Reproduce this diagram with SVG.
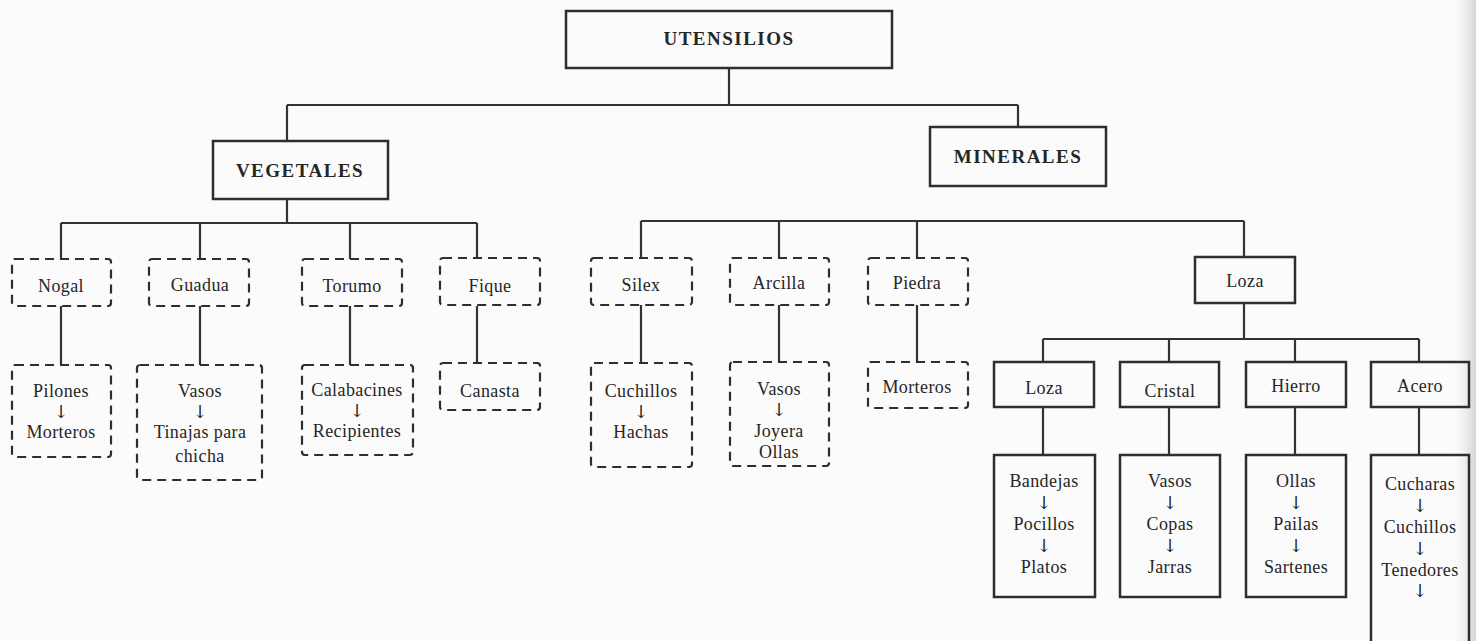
<svg xmlns="http://www.w3.org/2000/svg" width="1476" height="641" viewBox="0 0 1476 641">
  <defs>
    <linearGradient id="pageEdge" x1="0" y1="0" x2="1" y2="0">
      <stop offset="0" stop-color="#ffffff" stop-opacity="0"/>
      <stop offset="1" stop-color="#d4d4d4"/>
    </linearGradient>
    <style>
      .bg { fill: #fbfbfb; }
      .solid { fill: none; stroke: #2e2e2e; stroke-width: 2.5; }
      .dash { fill: none; stroke: #2e2e2e; stroke-width: 2.2; stroke-dasharray: 9 6; }
      .wire { fill: none; stroke: #333333; stroke-width: 2.2; }
      text { font-family: "Liberation Serif", "Times New Roman", serif; fill: #262626; text-anchor: middle; }
      .head { font-size: 19px; font-weight: bold; letter-spacing: 1.5px; }
      .lbl { font-size: 18px; letter-spacing: 0.4px; }
      .arr { font-family: "DejaVu Serif", "DejaVu Sans", serif; font-size: 18px; letter-spacing: 0; }
    </style>
  </defs>

  <rect class="bg" x="0" y="0" width="1476" height="641"/>
  <rect x="1448" y="0" width="28" height="641" fill="url(#pageEdge)"/>

  <!-- connectors -->
  <g id="connectors">
    <!-- root to the two families -->
    <path class="wire" d="M729 68 V105 M287 105 H1018 M287 105 V141 M1018 105 V127"/>
    <!-- vegetales branch -->
    <path class="wire" d="M287 199 V223 M61 223 H477 M61 223 V259 M200 223 V259 M350 223 V259 M477 223 V259"/>
    <path class="wire" d="M61 306 V365 M200 306 V365 M350 306 V365 M477 306 V363"/>
    <!-- minerales branch -->
    <path class="wire" d="M641 221 H1244 M641 221 V258 M779 221 V258 M917 221 V258 M1244 221 V257"/>
    <path class="wire" d="M641 305 V363 M779 305 V362 M917 305 V362"/>
    <!-- loza sub-branch -->
    <path class="wire" d="M1244 303 V339 M1043 339 H1419 M1043 339 V362 M1169 339 V362 M1295 339 V362 M1419 339 V362"/>
    <path class="wire" d="M1043 407 V455 M1169 407 V455 M1295 407 V455 M1419 407 V455"/>
  </g>

  <g id="utensilios">
    <rect class="solid" x="566" y="11" width="326" height="57"/>
    <text class="head" x="729" y="45">UTENSILIOS</text>
  </g>

  <g id="vegetales">
    <rect class="solid" x="213" y="141" width="175" height="58"/>
    <text class="head" x="300" y="177">VEGETALES</text>
  </g>

  <g id="minerales">
    <rect class="solid" x="930" y="127" width="176" height="59"/>
    <text class="head" x="1018" y="163">MINERALES</text>
  </g>

  <!-- vegetales materials -->
  <g id="nogal">
    <rect class="dash" x="12" y="259" width="99" height="47" rx="3"/>
    <text class="lbl" x="61" y="292">Nogal</text>
  </g>
  <g id="guadua">
    <rect class="dash" x="149" y="259" width="100" height="47" rx="3"/>
    <text class="lbl" x="200" y="291">Guadua</text>
  </g>
  <g id="torumo">
    <rect class="dash" x="302" y="259" width="100" height="47" rx="3"/>
    <text class="lbl" x="352" y="292">Torumo</text>
  </g>
  <g id="fique">
    <rect class="dash" x="440" y="258" width="100" height="47" rx="3"/>
    <text class="lbl" x="490" y="292">Fique</text>
  </g>

  <!-- vegetales products -->
  <g id="nogal-products">
    <rect class="dash" x="12" y="365" width="99" height="92" rx="3"/>
    <text class="lbl"><tspan x="61" y="397">Pilones</tspan><tspan class="arr" x="61" y="418">↓</tspan><tspan x="61" y="438">Morteros</tspan></text>
  </g>
  <g id="guadua-products">
    <rect class="dash" x="137" y="365" width="125" height="115" rx="3"/>
    <text class="lbl"><tspan x="200" y="397">Vasos</tspan><tspan class="arr" x="200" y="418">↓</tspan><tspan x="200" y="438">Tinajas para</tspan><tspan x="200" y="462">chicha</tspan></text>
  </g>
  <g id="torumo-products">
    <rect class="dash" x="302" y="365" width="111" height="90" rx="3"/>
    <text class="lbl"><tspan x="357" y="396">Calabacines</tspan><tspan class="arr" x="357" y="417">↓</tspan><tspan x="357" y="437">Recipientes</tspan></text>
  </g>
  <g id="fique-products">
    <rect class="dash" x="440" y="363" width="100" height="47" rx="3"/>
    <text class="lbl" x="490" y="397">Canasta</text>
  </g>

  <!-- minerales materials -->
  <g id="silex">
    <rect class="dash" x="591" y="258" width="101" height="47" rx="3"/>
    <text class="lbl" x="641" y="291">Silex</text>
  </g>
  <g id="arcilla">
    <rect class="dash" x="730" y="258" width="99" height="47" rx="3"/>
    <text class="lbl" x="779" y="289">Arcilla</text>
  </g>
  <g id="piedra">
    <rect class="dash" x="868" y="258" width="100" height="47" rx="3"/>
    <text class="lbl" x="917" y="289">Piedra</text>
  </g>
  <g id="loza">
    <rect class="solid" x="1195" y="257" width="100" height="46"/>
    <text class="lbl" x="1245" y="287">Loza</text>
  </g>

  <!-- minerales products -->
  <g id="silex-products">
    <rect class="dash" x="591" y="363" width="101" height="104" rx="3"/>
    <text class="lbl"><tspan x="641" y="397">Cuchillos</tspan><tspan class="arr" x="641" y="418">↓</tspan><tspan x="641" y="438">Hachas</tspan></text>
  </g>
  <g id="arcilla-products">
    <rect class="dash" x="730" y="362" width="99" height="104" rx="3"/>
    <text class="lbl"><tspan x="779" y="395">Vasos</tspan><tspan class="arr" x="779" y="416">↓</tspan><tspan x="779" y="437">Joyera</tspan><tspan x="779" y="458">Ollas</tspan></text>
  </g>
  <g id="piedra-products">
    <rect class="dash" x="868" y="362" width="100" height="46" rx="3"/>
    <text class="lbl" x="917" y="393">Morteros</text>
  </g>

  <!-- loza sub-materials -->
  <g id="loza-loza">
    <rect class="solid" x="994" y="362" width="100" height="45"/>
    <text class="lbl" x="1044" y="394">Loza</text>
  </g>
  <g id="cristal">
    <rect class="solid" x="1120" y="362" width="99" height="45"/>
    <text class="lbl" x="1170" y="397">Cristal</text>
  </g>
  <g id="hierro">
    <rect class="solid" x="1246" y="362" width="100" height="45"/>
    <text class="lbl" x="1296" y="392">Hierro</text>
  </g>
  <g id="acero">
    <rect class="solid" x="1371" y="362" width="98" height="45"/>
    <text class="lbl" x="1420" y="392">Acero</text>
  </g>

  <!-- loza products -->
  <g id="loza-products">
    <rect class="solid" x="994" y="455" width="101" height="142"/>
    <text class="lbl"><tspan x="1044" y="487">Bandejas</tspan><tspan class="arr" x="1044" y="509">↓</tspan><tspan x="1044" y="530">Pocillos</tspan><tspan class="arr" x="1044" y="552">↓</tspan><tspan x="1044" y="573">Platos</tspan></text>
  </g>
  <g id="cristal-products">
    <rect class="solid" x="1120" y="455" width="100" height="142"/>
    <text class="lbl"><tspan x="1170" y="487">Vasos</tspan><tspan class="arr" x="1170" y="509">↓</tspan><tspan x="1170" y="530">Copas</tspan><tspan class="arr" x="1170" y="552">↓</tspan><tspan x="1170" y="573">Jarras</tspan></text>
  </g>
  <g id="hierro-products">
    <rect class="solid" x="1246" y="455" width="100" height="142"/>
    <text class="lbl"><tspan x="1296" y="487">Ollas</tspan><tspan class="arr" x="1296" y="509">↓</tspan><tspan x="1296" y="530">Pailas</tspan><tspan class="arr" x="1296" y="552">↓</tspan><tspan x="1296" y="573">Sartenes</tspan></text>
  </g>
  <g id="acero-products">
    <rect class="solid" x="1371" y="455" width="98" height="195"/>
    <text class="lbl"><tspan x="1420" y="490">Cucharas</tspan><tspan class="arr" x="1420" y="512">↓</tspan><tspan x="1420" y="533">Cuchillos</tspan><tspan class="arr" x="1420" y="555">↓</tspan><tspan x="1420" y="576">Tenedores</tspan><tspan class="arr" x="1420" y="597">↓</tspan></text>
  </g>
</svg>
